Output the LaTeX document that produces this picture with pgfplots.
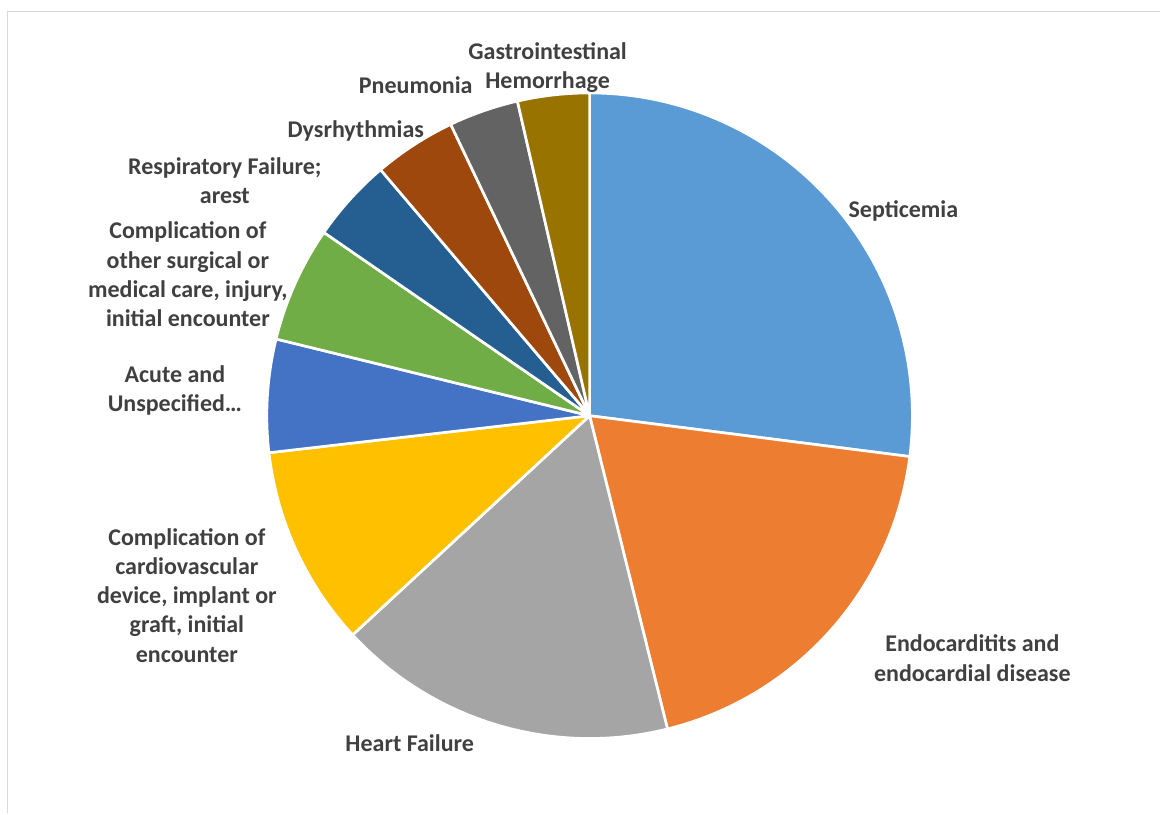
\documentclass[border=0pt]{standalone}
\usepackage{pgfplots}
\pgfplotsset{compat=1.18}
\usepackage{fontspec}
\setmainfont{Carlito}
\definecolor{c1}{HTML}{5B9BD5}
\definecolor{c2}{HTML}{ED7D31}
\definecolor{c3}{HTML}{A5A5A5}
\definecolor{c4}{HTML}{FFC000}
\definecolor{c5}{HTML}{4472C4}
\definecolor{c6}{HTML}{70AD47}
\definecolor{c7}{HTML}{255E91}
\definecolor{c8}{HTML}{9E480E}
\definecolor{c9}{HTML}{636363}
\definecolor{c10}{HTML}{997300}
\definecolor{lbl}{HTML}{404040}
\definecolor{framec}{HTML}{D9D9D9}
\begin{document}
\begin{tikzpicture}
\begin{axis}[
  x=0.75pt, y=0.75pt, y dir=reverse,
  xmin=0, xmax=1161, ymin=0, ymax=814,
  hide axis, scale only axis, clip=false,
]
\path[fill=white] (axis cs:0,0) rectangle (axis cs:1161,814);
\draw[framec, line width=1.2pt] (axis cs:1161,11.5) -- (axis cs:7.5,11.5) -- (axis cs:7.5,814);
% shares of the pie (percent), clockwise from 12 o'clock
\gdef\cum{90}
\foreach \v/\c in {27.02/c1, 19.10/c2, 17.00/c3, 10.05/c4, 5.65/c5, 5.79/c6, 4.18/c7, 4.13/c8, 3.49/c9, 3.59/c10}{
  \pgfmathsetmacro\s{\cum}
  \pgfmathsetmacro\e{\cum-3.6*\v}
  \xdef\cum{\e}
  \edef\tmp{\noexpand\filldraw[fill=\c, draw=white, line width=2pt, line join=round] (axis cs:590,416) -- ++(\s:242.25pt) arc[start angle=\s, end angle=\e, radius=242.25pt] -- cycle;}
  \tmp
}
\tikzset{lab/.style={text=lbl, font=\fontsize{18}{22}\selectfont\bfseries, align=center, inner sep=0pt, execute at begin node=\strut, execute at end node=\strut}}
\node[lab] at (axis cs:904,212) {Septicemia};
\node[lab] at (axis cs:973,663) {Endocarditits and\\endocardial disease};
\node[lab] at (axis cs:410,746) {Heart Failure};
\node[lab] at (axis cs:187,600) {Complication of\\cardiovascular\\device, implant or\\graft, initial\\encounter};
\node[lab] at (axis cs:175,393) {Acute and\\Unspecified…};
\node[lab] at (axis cs:188,279) {Complication of\\other surgical or\\medical care, injury,\\initial encounter};
\node[lab] at (axis cs:225,185) {Respiratory Failure;\\arest};
\node[lab] at (axis cs:356,132) {Dysrhythmias};
\node[lab] at (axis cs:416,88) {Pneumonia};
\node[lab] at (axis cs:548,70) {Gastrointestinal\\Hemorrhage};
\end{axis}
\end{tikzpicture}
\end{document}
